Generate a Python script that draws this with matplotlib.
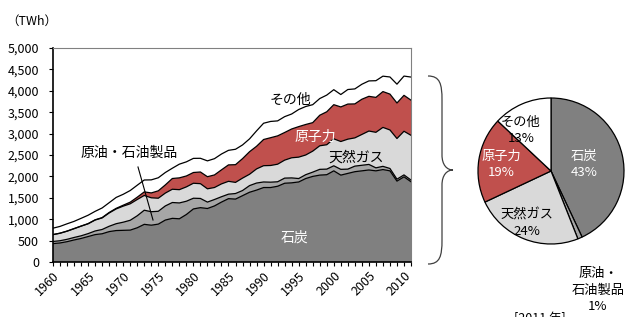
import numpy as np
import matplotlib
matplotlib.use("Agg")
import matplotlib.pyplot as plt
from matplotlib.path import Path
from matplotlib.patches import PathPatch

plt.rcParams['font.family'] = ['Noto Sans CJK JP', 'DejaVu Sans']

years = list(range(1960, 2012))

# TWh
coal = [430, 445, 475, 515, 550, 595, 640, 660, 710, 735,
        740, 745, 800, 880, 860, 885, 980, 1020, 1010, 1110,
        1240, 1270, 1250, 1310, 1400, 1480, 1470, 1550, 1630, 1680,
        1740, 1740, 1770, 1840, 1850, 1870, 1950, 2000, 2030, 2040,
        2130, 2030, 2070, 2110, 2130, 2150, 2130, 2160, 2130, 1890,
        1990, 1875]
oil = [50, 52, 55, 58, 62, 68, 85, 100, 125, 160,
       190, 230, 280, 330, 315, 300, 330, 370, 370, 310,
       250, 215, 150, 150, 125, 105, 130, 120, 155, 165,
       130, 125, 105, 120, 115, 80, 90, 100, 135, 130,
       118, 135, 100, 130, 130, 130, 70, 75, 55, 45,
       45, 40]
gas = [160, 175, 190, 205, 225, 230, 255, 270, 310, 345,
       375, 385, 380, 345, 325, 305, 300, 310, 310, 335,
       350, 345, 310, 280, 300, 300, 260, 290, 265, 330,
       380, 390, 410, 420, 470, 500, 460, 490, 550, 570,
       630, 650, 700, 660, 720, 780, 830, 910, 900, 950,
       1020, 1045]
nuclear = [0.5, 1.7, 2.3, 3.2, 3.3, 3.7, 5.5, 7.7, 12.5, 13.9,
           21.8, 38, 54, 83, 114, 173, 191, 251, 276, 255,
           251, 273, 283, 294, 328, 384, 414, 455, 527, 529,
           612, 649, 662, 646, 673, 713, 713, 666, 714, 770,
           798, 808, 820, 794, 823, 811, 816, 837, 838, 830,
           839, 821]
other = [150, 158, 170, 168, 180, 196, 198, 225, 228, 255,
         255, 272, 280, 278, 305, 305, 290, 240, 320, 330,
         330, 320, 370, 380, 370, 340, 360, 320, 300, 360,
         380, 380, 350, 370, 350, 400, 420, 420, 390, 390,
         350, 290, 340, 350, 350, 360, 390, 360, 400, 440,
         450, 540]

series_labels = ['石炭', '原油・石油製品', '天然ガス', '原子力', 'その他']
colors = ['#808080', '#a6a6a6', '#d9d9d9', '#c0504d', '#ffffff']

pie_labels = ['石炭\n43%', '原油・\n石油製品\n1%', '天然ガス\n24%', '原子力\n19%', 'その他\n13%']
pie_shares = [43, 1, 24, 19, 13]

W, H = 630, 317


def fx(x):
    return x / W


def fy(y):
    return 1 - y / H


fig = plt.figure(figsize=(6.3, 3.17), dpi=100)
ax = fig.add_axes([fx(53), 55 / H, 358 / W, 214 / H])

layers = [coal, oil, gas, nuclear, other]
bottom = np.zeros(len(years))
for vals, col in zip(layers, colors):
    top = bottom + np.array(vals)
    ax.fill_between(years, bottom, top, facecolor=col, edgecolor='none')
    ax.plot(years, top, color='black', linewidth=0.9)
    bottom = top

ax.set_xlim(1960, 2011)
ax.set_ylim(0, 5000)
ax.set_yticks(range(0, 5001, 500))
ax.set_yticklabels([f'{v:,}' for v in range(0, 5001, 500)], fontsize=9)
ax.set_xticks(range(1960, 2011, 5))
ax.set_xticklabels([str(y) for y in range(1960, 2011, 5)], rotation=45,
                   fontsize=9, ha='right', va='top', rotation_mode='anchor')
ax.set_xticks(years, minor=True)
ax.tick_params(axis='x', which='both', direction='out', length=3, width=0.8, pad=2)
ax.tick_params(axis='y', direction='out', length=3, width=0.8, pad=7)
for s in ['top', 'right']:
    ax.spines[s].set_color('#808080')
for s in ['left', 'bottom']:
    ax.spines[s].set_color('black')
    ax.spines[s].set_linewidth(1.2)

fig.text(fx(290), fy(100), 'その他', fontsize=10, ha='center', va='center', color='black')
fig.text(fx(315), fy(137), '原子力', fontsize=10, ha='center', va='center', color='white')
fig.text(fx(356), fy(158), '天然ガス', fontsize=10, ha='center', va='center', color='black')
fig.text(fx(295), fy(238), '石炭', fontsize=10, ha='center', va='center', color='white')
fig.text(fx(129), fy(153), '原油・石油製品', fontsize=10, ha='center', va='center', color='black')
fig.add_artist(plt.Line2D([fx(138), fx(153)], [fy(167), fy(220)],
                          color='black', linewidth=0.8))

fig.text(fx(32), fy(21), '（TWh）', fontsize=9, ha='center', va='center')

# brace
verts = [(428, 76), (440, 76), (442, 84), (442, 100),
         (442, 155), (442, 165), (447, 170), (453, 170),
         (447, 170), (442, 175), (442, 185),
         (442, 240), (442, 256), (440, 264), (428, 264)]
codes = [Path.MOVETO, Path.CURVE4, Path.CURVE4, Path.CURVE4,
         Path.LINETO, Path.CURVE4, Path.CURVE4, Path.CURVE4,
         Path.CURVE4, Path.CURVE4, Path.CURVE4,
         Path.LINETO, Path.CURVE4, Path.CURVE4, Path.CURVE4]
verts = [(fx(x), fy(y)) for x, y in verts]
fig.add_artist(PathPatch(Path(verts, codes), facecolor='none', edgecolor='#404040',
                         linewidth=0.9, transform=fig.transFigure))

# pie
r = 73
cx, cy = 551, 171
pax = fig.add_axes([fx(cx - r), fy(cy + r), 2 * r / W, 2 * r / H])
pax.pie(pie_shares, colors=colors, startangle=90, counterclock=False,
        wedgeprops=dict(edgecolor='black', linewidth=0.9))
pax.set_aspect('auto')
pax.set_xlim(-1, 1)
pax.set_ylim(-1, 1)

pie_pos = [(584, 164, 'white'), (598, 290, 'black'), (527, 223, 'black'),
           (501, 164, 'white'), (521, 130, 'black')]
for lab, (x, y, c) in zip(pie_labels, pie_pos):
    fig.text(fx(x), fy(y), lab, fontsize=9.5, ha='center', va='center',
             color=c, linespacing=1.3)

fig.text(fx(540), fy(312), '[2011 年]', fontsize=9, ha='center', va='top')

fig.savefig('out.png', dpi=100)
